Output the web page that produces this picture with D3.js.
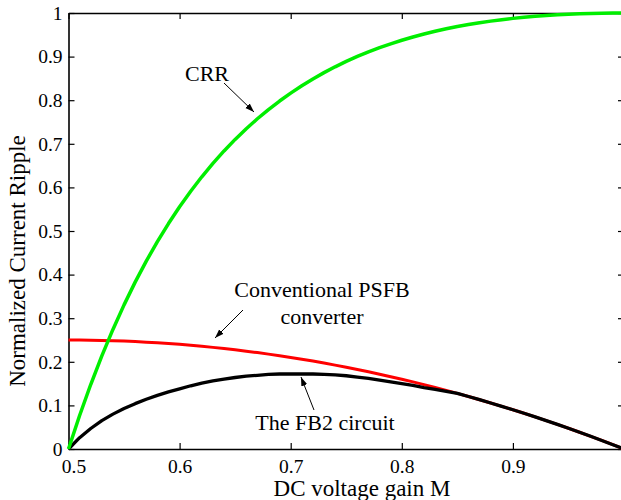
<!DOCTYPE html>
<html>
<head>
<meta charset="utf-8">
<script src="https://cdn.jsdelivr.net/npm/d3@7/dist/d3.min.js"></script>
<style>
  html, body { margin: 0; padding: 0; background: #fff; }
  svg { display: block; overflow: hidden; }
  svg text, svg tspan { font-family: "Liberation Serif", "Times New Roman", serif !important; fill: #000; }
</style>
</head>
<body>
<svg id="chart" width="621" height="500"></svg>
<script>
// DC voltage gain M, sampled every 0.01 from 0.5 to 1.0
const gainM = d3.range(0, 51).map(i => +(0.5 + i * 0.01).toFixed(2));

// Normalized current ripple of the CRR scheme
const crrRipple = [
  0, 0.0769, 0.1479, 0.2136, 0.2743, 0.3306, 0.3827, 0.4309, 0.4756, 0.5171,
  0.5556, 0.5912, 0.6244, 0.6551, 0.6836, 0.7101, 0.7346, 0.7574, 0.7785, 0.7981,
  0.8163, 0.8332, 0.8488, 0.8632, 0.8766, 0.8889, 0.9003, 0.9108, 0.9204, 0.9293,
  0.9375, 0.9450, 0.9518, 0.9580, 0.9637, 0.9689, 0.9735, 0.9777, 0.9814, 0.9847,
  0.9877, 0.9902, 0.9924, 0.9943, 0.9959, 0.9972, 0.9983, 0.9990, 0.9996, 0.9999,
  1.0
];

// Normalized current ripple of the conventional PSFB converter
const psfbRipple = [
  0.25, 0.2499, 0.2496, 0.2491, 0.2484, 0.2475, 0.2464, 0.2451, 0.2436, 0.2419,
  0.24, 0.2379, 0.2356, 0.2331, 0.2304, 0.2275, 0.2244, 0.2211, 0.2176, 0.2139,
  0.21, 0.2059, 0.2016, 0.1971, 0.1924, 0.1875, 0.1824, 0.1771, 0.1716, 0.1659,
  0.16, 0.1539, 0.1476, 0.1411, 0.1344, 0.1275, 0.1204, 0.1131, 0.1056, 0.0979,
  0.09, 0.0819, 0.0736, 0.0651, 0.0564, 0.0475, 0.0384, 0.0291, 0.0196, 0.0099,
  0
];

// Normalized current ripple of the FB2 circuit
const fb2Ripple = [
  0, 0.026, 0.047, 0.065, 0.080, 0.093, 0.104, 0.114, 0.123, 0.131,
  0.138, 0.145, 0.151, 0.156, 0.160, 0.164, 0.167, 0.169, 0.171, 0.172,
  0.172, 0.172, 0.172, 0.171, 0.170, 0.168, 0.165, 0.162, 0.158, 0.154,
  0.150, 0.146, 0.141, 0.137, 0.132, 0.1275, 0.1204, 0.1131, 0.1056, 0.0979,
  0.09, 0.0819, 0.0736, 0.0651, 0.0564, 0.0475, 0.0384, 0.0291, 0.0196, 0.0099,
  0
];

const xTicks = [0.5, 0.6, 0.7, 0.8, 0.9, 1.0];
const xTickLabels = ["0.5", "0.6", "0.7", "0.8", "0.9", ""];
const yTicks = d3.range(0, 11).map(i => +(i * 0.1).toFixed(1));
const yTickLabels = ["0", "0.1", "0.2", "0.3", "0.4", "0.5", "0.6", "0.7", "0.8", "0.9", "1"];

const xTitle = "DC voltage gain M";
const yTitle = "Normalized Current Ripple";

const serif = '"Liberation Serif", "Times New Roman", serif';
const svg = d3.select("#chart");
const plotLeft = 68.5, plotRight = 624, plotTop = 13, plotBottom = 449;

const x = d3.scaleLinear().domain([0.5, 1.0]).range([plotLeft, plotRight]);
const y = d3.scaleLinear().domain([0, 1]).range([plotBottom, plotTop]);

// frame and inward ticks on all four sides
const tickLen = 6;
function styleAxis(g) {
  g.attr("font-family", serif);
  g.select(".domain").attr("stroke", "#000").attr("stroke-width", 1.6);
  g.selectAll(".tick line").attr("stroke", "#000").attr("stroke-width", 1.2);
  g.selectAll(".tick text").style("font-family", serif).style("font-size", "19.5px").attr("fill", "#000");
}

const xBottom = svg.append("g").attr("transform", `translate(0,${plotBottom})`)
  .call(d3.axisBottom(x).tickValues(xTicks).tickSizeInner(-tickLen).tickSizeOuter(0)
    .tickPadding(10).tickFormat((d, i) => xTickLabels[i]));
styleAxis(xBottom);
xBottom.selectAll(".tick text").attr("dy", "0.71em")
  .attr("dx", (d, i) => i === 0 ? 5 : 0);

const xTop = svg.append("g").attr("transform", `translate(0,${plotTop})`)
  .call(d3.axisTop(x).tickValues(xTicks).tickSizeInner(-tickLen).tickSizeOuter(0).tickFormat(""));
styleAxis(xTop);

const yLeft = svg.append("g").attr("transform", `translate(${plotLeft},0)`)
  .call(d3.axisLeft(y).tickValues(yTicks).tickSizeInner(-tickLen).tickSizeOuter(0)
    .tickPadding(6).tickFormat((d, i) => yTickLabels[i]));
styleAxis(yLeft);

const yRight = svg.append("g").attr("transform", `translate(${plotRight},0)`)
  .call(d3.axisRight(y).tickValues(yTicks).tickSizeInner(-tickLen).tickSizeOuter(0).tickFormat(""));
styleAxis(yRight);

// axis titles
svg.append("text")
  .attr("x", 362).attr("y", 496)
  .attr("text-anchor", "middle")
  .style("font-family", serif).style("font-size", "23px")
  .text(xTitle);

svg.append("text")
  .attr("transform", `translate(25,${(plotTop + plotBottom) / 2 + 30}) rotate(-90)`)
  .attr("text-anchor", "middle")
  .style("font-family", serif).style("font-size", "23px")
  .text(yTitle);

// curves
const line = d3.line().x(d => x(d[0])).y(d => y(d[1]));
const series = [
  { values: psfbRipple, color: "#ff0000", width: 3 },
  { values: fb2Ripple, color: "#000000", width: 3.3 },
  { values: crrRipple, color: "#00ee00", width: 3.5 }
];
series.forEach(s => {
  svg.append("path")
    .datum(gainM.map((m, i) => [m, s.values[i]]))
    .attr("fill", "none")
    .attr("stroke", s.color)
    .attr("stroke-width", s.width)
    .attr("stroke-linejoin", "round")
    .attr("d", line);
});

// annotations with arrows
svg.append("defs").append("marker")
  .attr("id", "arrow").attr("viewBox", "0 0 10 10")
  .attr("refX", 10).attr("refY", 5)
  .attr("markerWidth", 9).attr("markerHeight", 9)
  .attr("markerUnits", "userSpaceOnUse")
  .attr("orient", "auto")
  .append("path").attr("d", "M0,1.5 L10,5 L0,8.5 Z").attr("fill", "#000");

const notes = [
  { lines: ["CRR"], x: 207, y: 81, from: [224, 83], to: [254, 112] },
  { lines: ["Conventional PSFB", "converter"], x: 322, y: 297, from: [243, 310], to: [215, 338] },
  { lines: ["The FB2 circuit"], x: 325, y: 430, from: [314, 410], to: [301, 377] }
];
notes.forEach(n => {
  const t = svg.append("text").attr("text-anchor", "middle")
    .style("font-family", serif).style("font-size", "22px");
  n.lines.forEach((s, i) => {
    t.append("tspan").attr("x", n.x).attr("y", n.y + i * 26.5)
      .style("font-family", serif).text(s);
  });
  svg.append("line")
    .attr("x1", n.from[0]).attr("y1", n.from[1])
    .attr("x2", n.to[0]).attr("y2", n.to[1])
    .attr("stroke", "#000").attr("stroke-width", 1)
    .attr("marker-end", "url(#arrow)");
});
</script>
</body>
</html>
